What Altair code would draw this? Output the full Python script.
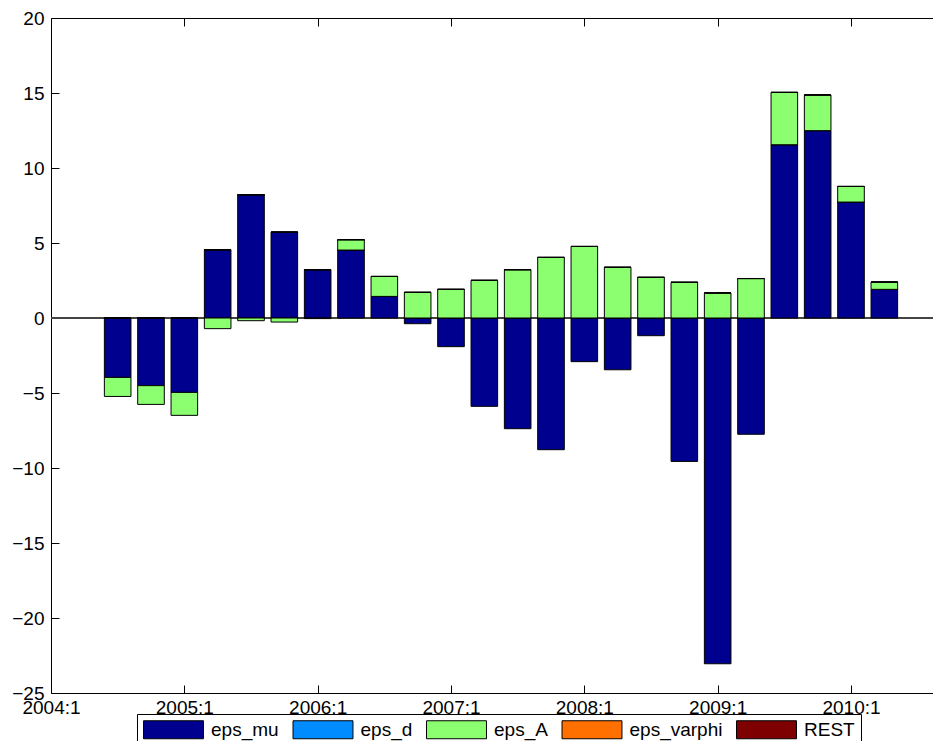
import altair as alt
import pandas as pd

quarters = ["2004:3", "2004:4", "2005:1", "2005:2", "2005:3", "2005:4",
            "2006:1", "2006:2", "2006:3", "2006:4", "2007:1", "2007:2",
            "2007:3", "2007:4", "2008:1", "2008:2", "2008:3", "2008:4",
            "2009:1", "2009:2", "2009:3", "2009:4", "2010:1", "2010:2"]

eps_mu = [-3.96, -4.51, -4.96, 4.55, 8.22, 5.72, 3.22, 4.53, 1.44, -0.38, -1.91, -5.89,
          -7.38, -8.78, -2.91, -3.45, -1.18, -9.56, -23.05, -7.75, 11.55, 12.49, 7.73, 1.91]
eps_d = [0.0, 0.0, 0.0, 0.0, 0.0, 0.0, 0.0, 0.0, 0.0, 0.0, 0.0, 0.0,
         0.0, 0.0, 0.0, 0.0, 0.0, 0.0, 0.0, 0.0, 0.0, 0.0, 0.0, 0.0]
eps_A = [-1.27, -1.25, -1.53, -0.71, -0.18, -0.27, -0.04, 0.69, 1.33, 1.71, 1.91, 2.51,
         3.22, 4.04, 4.77, 3.38, 2.71, 2.38, 1.67, 2.63, 3.49, 2.38, 1.04, 0.49]
eps_varphi = [0.0, 0.0, 0.0, 0.0, 0.0, 0.0, 0.0, 0.0, 0.0, 0.0, 0.0, 0.0,
              0.0, 0.0, 0.0, 0.0, 0.0, 0.0, 0.0, 0.0, 0.0, 0.0, 0.0, 0.0]
REST = [0.0, 0.0, 0.0, 0.0, 0.0, 0.0, 0.0, 0.0, 0.0, 0.0, 0.0, 0.0,
        0.0, 0.0, 0.0, 0.0, 0.0, 0.0, 0.0, 0.0, 0.0, 0.0, 0.0, 0.0]

series_names = ["eps_mu", "eps_d", "eps_A", "eps_varphi", "REST"]
series_colors = ["#00008F", "#008CFF", "#8CFF70", "#FF7000", "#7F0000"]
series_values = [eps_mu, eps_d, eps_A, eps_varphi, REST]

tick_labels = ["2004:1", "2005:1", "2006:1", "2007:1", "2008:1", "2009:1", "2010:1"]
y_ticks = [-25, -20, -15, -10, -5, 0, 5, 10, 15, 20]


def qidx(q):
    y, k = q.split(":")
    return (int(y) - 2004) * 4 + int(k) - 1


rows = []
for i, q in enumerate(quarters):
    for s, (name, vals) in enumerate(zip(series_names, series_values)):
        rows.append({"quarter": q, "idx": qidx(q), "series": name, "order": s, "value": vals[i]})
df = pd.DataFrame(rows)

tick_vals = [qidx(t) for t in tick_labels]
ticks_df = pd.DataFrame({"idx": tick_vals, "yv": [0] * len(tick_vals)})
label_expr = "[" + ",".join("'%s'" % t for t in tick_labels) + "][round(datum.value/4)]"

FONT = "Liberation Sans, Arial, Helvetica, sans-serif"
x_scale = alt.Scale(domain=[0, 26.46], nice=False, zero=False, padding=0)
y_scale = alt.Scale(domain=[-25, 20], nice=False, zero=False, padding=0)

zero_line = alt.Chart(df).mark_rule(color="#444444", strokeWidth=1).encode(
    y=alt.YDatum(0, scale=y_scale, axis=None)
)

bars = alt.Chart(df).mark_bar(size=26.6, stroke="black", strokeWidth=1).encode(
    x=alt.X("idx:Q", scale=x_scale, title=None,
            axis=alt.Axis(orient="bottom", values=tick_vals, labelExpr=label_expr,
                          ticks=False, domain=True, domainColor="black", domainWidth=1,
                          grid=False, labelFontSize=19, labelFont=FONT, labelColor="black",
                          labelPadding=5, labelFlush=False, labelOverlap=False)),
    y=alt.Y("value:Q", stack="zero", scale=y_scale, title=None,
            axis=alt.Axis(orient="left", values=y_ticks, ticks=False, domain=True,
                          domainColor="black", domainWidth=1, grid=False,
                          labelFontSize=19, labelFont=FONT, labelColor="black",
                          labelPadding=7, labelFlush=False, labelOverlap=False)),
    color=alt.Color("series:N", scale=alt.Scale(domain=series_names, range=series_colors),
                    legend=alt.Legend(orient="none", legendX=86, legendY=696,
                                      direction="horizontal", columns=5, title=None,
                                      symbolType="M-3.33,-1H3.33V1H-3.33Z", symbolSize=324,
                                      symbolOffset=21, labelOffset=28,
                                      symbolStrokeColor="black", symbolStrokeWidth=1,
                                      symbolOpacity=1,
                                      labelFontSize=19, labelFont=FONT, labelColor="black",
                                      strokeColor="black", fillColor="white",
                                      padding=6, columnPadding=11.5, rowPadding=0)),
    order=alt.Order("order:Q"),
)

ticks_bl = alt.Chart(ticks_df).mark_point(opacity=0).encode(
    x=alt.X("idx:Q", scale=x_scale, title=None,
            axis=alt.Axis(orient="bottom", offset=-8, values=tick_vals, labels=False,
                          domain=False, ticks=True, tickSize=8, tickColor="black",
                          tickWidth=1, grid=False)),
    y=alt.Y("yv:Q", scale=y_scale, title=None,
            axis=alt.Axis(orient="left", offset=-8, values=y_ticks, labels=False,
                          domain=False, ticks=True, tickSize=8, tickColor="black",
                          tickWidth=1, grid=False)),
)

top_border = alt.Chart(ticks_df).mark_point(opacity=0).encode(
    x=alt.X("idx:Q", scale=x_scale, title=None,
            axis=alt.Axis(orient="top", values=tick_vals, labels=False, domain=True,
                          domainColor="black", domainWidth=1, ticks=False, grid=False)),
    y=alt.Y("yv:Q", scale=y_scale, axis=None),
)

top_ticks = alt.Chart(ticks_df).mark_point(opacity=0).encode(
    x=alt.X("idx:Q", scale=x_scale, title=None,
            axis=alt.Axis(orient="top", offset=-8, values=tick_vals, labels=False,
                          domain=False, ticks=True, tickSize=8, tickColor="black",
                          tickWidth=1, grid=False)),
    y=alt.Y("yv:Q", scale=y_scale, axis=None),
)

chart = alt.layer(zero_line, bars, ticks_bl, top_border, top_ticks).resolve_axis(
    x="independent", y="independent"
).properties(
    width=882, height=675,
    autosize=alt.AutoSizeParams(type="none"),
    padding={"left": 43, "top": 10, "right": 0, "bottom": 48},
    background="white",
).configure_view(strokeWidth=0)

chart.save("out.html", embed_options={"renderer": "svg", "actions": False})
